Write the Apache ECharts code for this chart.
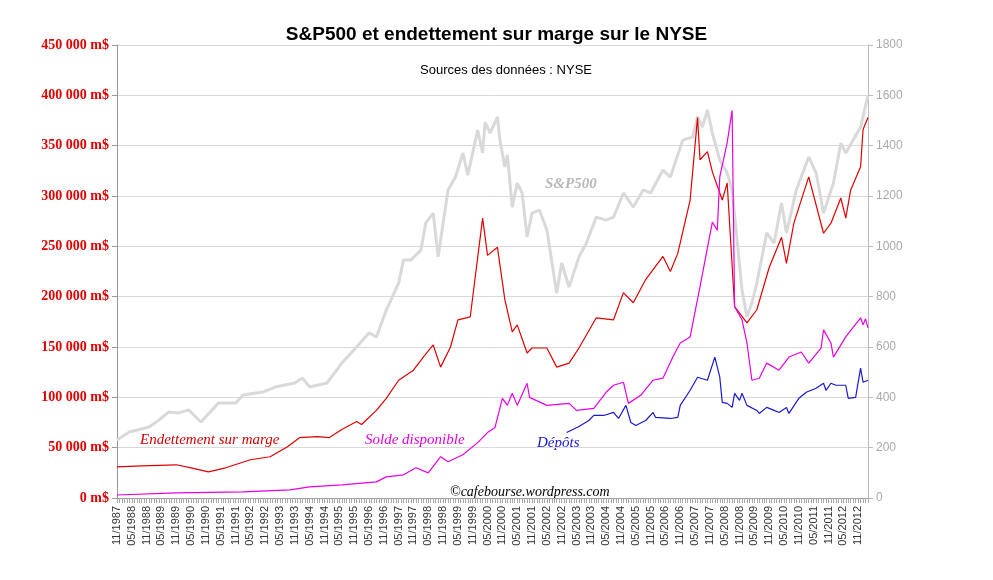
<!DOCTYPE html>
<html><head><meta charset="utf-8">
<script src="https://cdn.jsdelivr.net/npm/echarts@6/dist/echarts.min.js"></script>
<style>body{margin:0;background:#fff}#c{width:993px;height:580px}</style>
</head><body><div id="c"></div>
<script>
// month index from 11/1987
var months = [];
for (var i = 0; i < 305; i++) { var t = 10 + i; var mo = (t % 12) + 1, yr = 1987 + Math.floor(t / 12); months.push((mo < 10 ? '0' : '') + mo + '/' + yr); }
// [month index, k$]
var margeDebt = [[0,31],[10,32],[24,33],[30,30],[37,26],[44,30],[54,38],[62,41],[69,51],[74,60],[81,61],[86,60],[91,68],[97,76],[99,73],[105,87],[109,99],[114,117],[120,127],[124,140],[128,152],[131,130],[135,150],[138,177],[143,180],[148,278],[150,241],[154,249],[157,197],[160,165],[162,172],[166,144],[168,149],[174,149],[178,130],[183,134],[187,149],[194,179],[201,177],[205,204],[209,194],[214,217],[221,240],[224,225],[227,243],[232,296],[235,378],[236,336],[239,344],[241,324],[245,296],[247,313],[250,190],[255,174],[259,187],[264,229],[269,259],[271,233],[274,273],[280,319],[286,263],[289,273],[293,298],[295,278],[297,306],[301,329],[302,366],[304,378]];
var solde = [[0,3],[24,5],[51,6],[70,8],[78,11],[91,13],[105,16],[109,21],[116,23],[121,30],[126,25],[131,41],[134,36],[140,43],[146,55],[150,65],[153,70],[156,99],[158,92],[160,104],[162,92],[166,114],[167,100],[174,92],[183,94],[186,87],[193,89],[198,105],[201,112],[205,115],[207,94],[212,102],[217,117],[221,119],[225,140],[228,154],[232,160],[236,210],[241,274],[243,266],[244,319],[247,353],[249,385],[250,190],[253,177],[255,154],[257,117],[260,119],[263,134],[268,127],[272,140],[277,145],[280,134],[285,149],[286,167],[289,154],[290,140],[295,160],[301,179],[302,172],[303,178],[304,169]];
var depots = [[182,65],[187,71],[191,77],[193,82],[197,82],[201,85],[203,79],[206,92],[208,75],[210,72],[214,77],[217,85],[218,80],[224,79],[227,80],[228,92],[232,107],[235,120],[239,117],[242,140],[244,120],[245,95],[247,94],[249,90],[250,104],[252,97],[253,104],[255,92],[259,87],[260,84],[263,90],[266,87],[268,85],[271,90],[272,84],[276,99],[279,105],[283,109],[286,114],[287,107],[289,114],[291,112],[295,112],[296,99],[299,100],[301,129],[302,115],[304,117]];
var sp500 = [[0,230],[5,262],[13,282],[17,310],[21,342],[25,338],[29,350],[34,302],[41,377],[48,377],[51,409],[59,421],[64,441],[72,457],[75,477],[78,441],[85,457],[91,536],[97,600],[102,656],[105,640],[109,747],[114,854],[116,946],[119,946],[123,985],[125,1093],[128,1132],[130,958],[134,1224],[137,1275],[140,1371],[142,1283],[146,1462],[148,1371],[149,1494],[151,1450],[154,1514],[155,1422],[157,1315],[158,1363],[160,1156],[162,1251],[164,1212],[166,1037],[168,1132],[171,1144],[174,1065],[178,814],[180,934],[183,838],[187,958],[190,1013],[194,1116],[198,1104],[201,1116],[205,1212],[209,1156],[213,1224],[216,1212],[221,1303],[224,1275],[229,1422],[233,1434],[235,1514],[237,1474],[239,1542],[241,1450],[244,1343],[247,1291],[249,1224],[251,1025],[253,826],[255,719],[257,775],[259,854],[263,1053],[266,1013],[269,1172],[271,1053],[275,1224],[280,1355],[283,1291],[286,1132],[290,1251],[293,1410],[295,1371],[301,1474],[304,1600]];
function toK(a){return a.map(function(p){return [months[p[0]], p[1]*1000];});}
function toM(a){return a.map(function(p){return [months[p[0]], p[1]];});}
var ch = echarts.init(document.getElementById('c'));
var serif = '"Liberation Serif","DejaVu Serif",serif';
ch.setOption({
  animation:false,
  backgroundColor:'#fff',
  title:[{text:'S&P500 et endettement sur marge sur le NYSE',left:'center',top:20,textStyle:{fontFamily:'Liberation Sans, Arial',fontSize:19,fontWeight:'bold',color:'#000'}},
         {text:'Sources des données : NYSE',left:415,top:59,textStyle:{fontFamily:'Liberation Sans, Arial',fontSize:13,fontWeight:'normal',color:'#000'}}],
  grid:{left:117,right:125,top:45,bottom:82},
  xAxis:{type:'category',data:months,boundaryGap:false,
    axisLine:{lineStyle:{color:'#999'}},
    axisTick:{interval:0,length:5,lineStyle:{color:'#aaa'}},
    axisLabel:{interval:5,rotate:90,fontSize:11,color:'#333',fontFamily:'Liberation Sans, Arial',margin:8},
    splitLine:{show:false}},
  yAxis:[{type:'value',min:0,max:450000,interval:50000,
    axisLine:{show:true,lineStyle:{color:'#999'}},axisTick:{show:true,lineStyle:{color:'#999'}},
    axisLabel:{color:'#e00000',fontWeight:'bold',fontFamily:serif,fontSize:14,formatter:function(v){return v===0?'0 m$':(v/1000)+' 000 m$';}},
    splitLine:{lineStyle:{color:'#d9d9d9'}}},
   {type:'value',min:0,max:1800,interval:200,position:'right',
    axisLine:{show:true,lineStyle:{color:'#bbb'}},axisTick:{show:true,lineStyle:{color:'#bbb'}},
    axisLabel:{color:'#aaa',fontFamily:'Liberation Sans, Arial',fontSize:12,formatter:function(v){return String(v);}},
    splitLine:{show:false}}],
  series:[
    {type:'line',yAxisIndex:1,data:toM(sp500),symbol:'none',lineStyle:{color:'#d9d9d9',width:3},z:1},
    {type:'line',data:toK(margeDebt),symbol:'none',lineStyle:{color:'#e00000',width:1.2},z:3},
    {type:'line',data:toK(solde),symbol:'none',lineStyle:{color:'#e600e6',width:1.2},z:3},
    {type:'line',data:toK(depots),symbol:'none',lineStyle:{color:'#1a1acc',width:1.2},z:3}
  ],
  graphic:[
    {type:'text',left:140,top:433,style:{text:'Endettement sur marge',fill:'#d00000',font:'italic 15px '+serif}},
    {type:'text',left:365,top:433,style:{text:'Solde disponible',fill:'#e000e0',font:'italic 15px '+serif}},
    {type:'text',left:537,top:436,style:{text:'Dépôts',fill:'#1a1acc',font:'italic 15px '+serif}},
    {type:'text',left:545,top:177,style:{text:'S&P500',fill:'#b8b8b8',font:'italic bold 15px '+serif}},
    {type:'text',left:450,top:485,style:{text:'©cafebourse.wordpress.com',fill:'#000',font:'italic 14px '+serif}}
  ]
});
</script></body></html>
